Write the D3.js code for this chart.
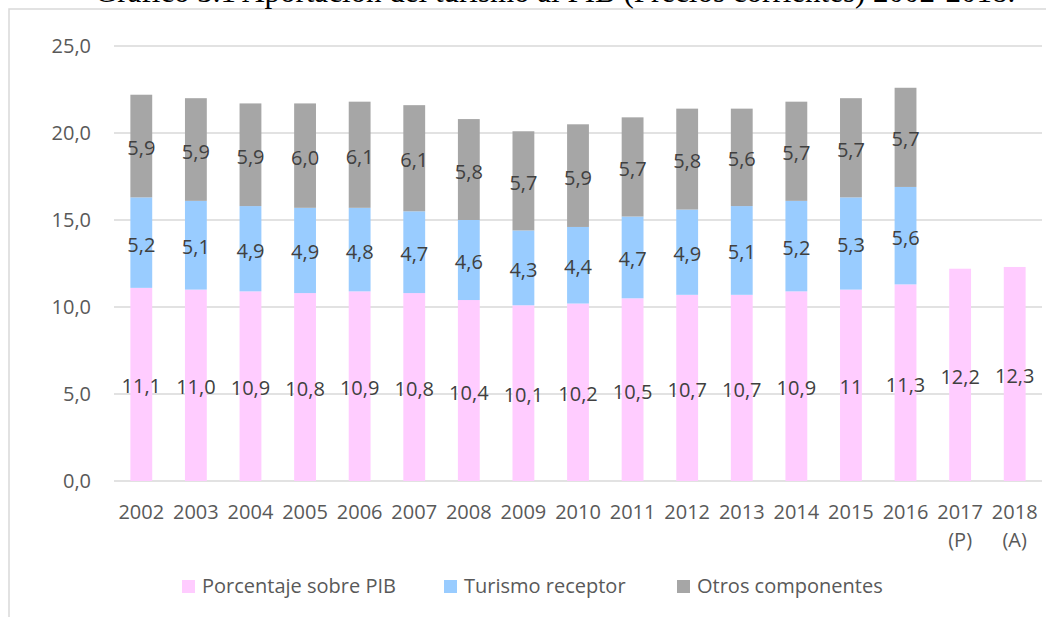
<!DOCTYPE html>
<html>
<head>
<meta charset="utf-8">
<script src="https://cdn.jsdelivr.net/npm/d3@7"></script>
<style>
  body { margin: 0; background: #fff; }
  svg text { font-family: "Open Sans", "Noto Sans", sans-serif; }
</style>
</head>
<body>
<div id="chart"></div>
<script>
// Datos del gráfico
const years = ["2002", "2003", "2004", "2005", "2006", "2007", "2008", "2009", "2010",
    "2011", "2012", "2013", "2014", "2015", "2016", "2017", "2018"];
const yearNotes = ["", "", "", "", "", "", "", "", "", "", "", "", "", "", "", "(P)", "(A)"];
const pibPct = [11.1, 11.0, 10.9, 10.8, 10.9, 10.8, 10.4, 10.1, 10.2, 10.5, 10.7, 10.7, 10.9, 11, 11.3, 12.2, 12.3];
const receptor = [5.2, 5.1, 4.9, 4.9, 4.8, 4.7, 4.6, 4.3, 4.4, 4.7, 4.9, 5.1, 5.2, 5.3, 5.6, null, null];
const otros = [5.9, 5.9, 5.9, 6.0, 6.1, 6.1, 5.8, 5.7, 5.9, 5.7, 5.8, 5.6, 5.7, 5.7, 5.7, null, null];
const pibLabels = ["11,1", "11,0", "10,9", "10,8", "10,9", "10,8", "10,4", "10,1", "10,2", "10,5", "10,7", "10,7", "10,9", "11", "11,3", "12,2", "12,3"];
const yTicks = [0, 5, 10, 15, 20, 25];
const seriesNames = ["Porcentaje sobre PIB", "Turismo receptor", "Otros componentes"];
const seriesColors = ["#ffccff", "#99ccff", "#a6a6a6"];

const W = 1046, H = 617;
const svg = d3.select("#chart").append("svg")
    .attr("width", W)
    .attr("height", H);

// Marco del gráfico
svg.append("path")
    .attr("d", `M9,${H} L9,9 L${W},9`)
    .attr("fill", "none")
    .attr("stroke", "#d9d9d9")
    .attr("stroke-width", 1.5);

// Título (recortado en la parte superior, como en el original)
svg.append("text")
    .attr("x", 555)
    .attr("y", 2)
    .attr("text-anchor", "middle")
    .style("font-family", "'Liberation Serif', 'Times New Roman', serif")
    .style("font-size", "31px")
    .attr("fill", "#000")
    .text("Gráfico 3.1 Aportación del turismo al PIB (Precios corrientes) 2002-2018.");

// Escalas
const x = d3.scaleBand()
    .domain(years)
    .range([114, 1042])
    .paddingInner(0.6)
    .paddingOuter(0.3);

const y = d3.scaleLinear()
    .domain([0, 25])
    .range([481, 46]);

// Rejilla
svg.append("g")
    .selectAll("line")
    .data(yTicks)
    .enter().append("line")
    .attr("x1", 114)
    .attr("x2", 1042)
    .attr("y1", d => y(d))
    .attr("y2", d => y(d))
    .attr("stroke", "#d9d9d9")
    .attr("stroke-width", 1.5);

// Eje Y
const yAxis = svg.append("g")
    .attr("transform", "translate(114,0)")
    .call(d3.axisLeft(y).tickValues(yTicks).tickSize(0).tickPadding(23)
        .tickFormat(d => d3.format(".1f")(d).replace(".", ",")));
yAxis.select(".domain").remove();
yAxis.selectAll("text")
    .attr("fill", "#595959")
    .style("font-size", "20px");

// Apilar datos
const rows = years.map((yr, i) => ({
    year: yr,
    segs: [
        { v0: 0, v1: pibPct[i], label: pibLabels[i], c: 0 },
        receptor[i] == null ? null : { v0: pibPct[i], v1: pibPct[i] + receptor[i], label: d3.format(".1f")(receptor[i]).replace(".", ","), c: 1 },
        otros[i] == null ? null : { v0: pibPct[i] + receptor[i], v1: pibPct[i] + receptor[i] + otros[i], label: d3.format(".1f")(otros[i]).replace(".", ","), c: 2 }
    ].filter(s => s)
}));

const groups = svg.append("g")
    .selectAll("g")
    .data(rows)
    .enter().append("g")
    .attr("transform", d => `translate(${x(d.year)},0)`);

groups.selectAll("rect")
    .data(d => d.segs)
    .enter().append("rect")
    .attr("x", 0)
    .attr("width", x.bandwidth())
    .attr("y", d => y(d.v1))
    .attr("height", d => y(d.v0) - y(d.v1))
    .attr("fill", d => seriesColors[d.c]);

// Etiquetas de datos
groups.selectAll("text")
    .data(d => d.segs)
    .enter().append("text")
    .attr("x", x.bandwidth() / 2)
    .attr("y", d => y((d.v0 + d.v1) / 2) + 9)
    .attr("text-anchor", "middle")
    .attr("fill", "#404040")
    .style("font-size", "20px")
    .text(d => d.label);

// Eje X
const xLab = svg.append("g")
    .selectAll("text")
    .data(years)
    .enter().append("text")
    .attr("x", d => x(d) + x.bandwidth() / 2)
    .attr("y", 519)
    .attr("text-anchor", "middle")
    .attr("fill", "#595959")
    .style("font-size", "20px");
xLab.append("tspan").text(d => d);
xLab.append("tspan")
    .attr("x", d => x(d) + x.bandwidth() / 2)
    .attr("dy", 28)
    .text((d, i) => yearNotes[i]);

// Leyenda
const legendX = [182, 444, 677];
const legend = svg.append("g")
    .selectAll("g")
    .data(seriesNames)
    .enter().append("g")
    .attr("transform", (d, i) => `translate(${legendX[i]},580)`);
legend.append("rect")
    .attr("width", 13)
    .attr("height", 13)
    .attr("fill", (d, i) => seriesColors[i]);
legend.append("text")
    .attr("x", 20)
    .attr("y", 13)
    .attr("fill", "#595959")
    .style("font-size", "20px")
    .text(d => d);
</script>
</body>
</html>
